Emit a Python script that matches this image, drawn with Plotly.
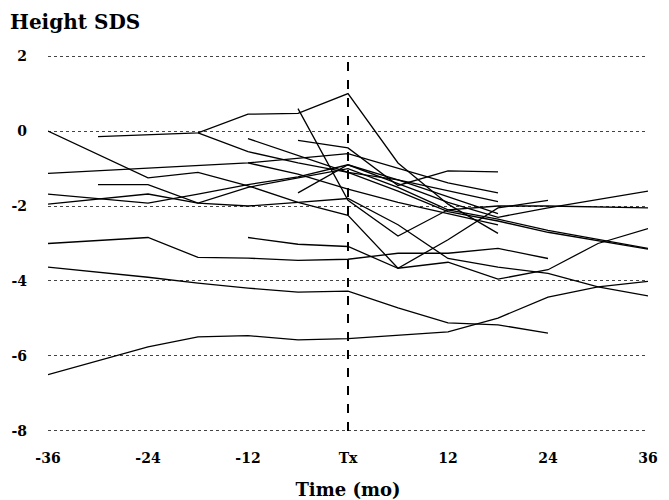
import plotly.graph_objects as go

# X tick labels
x_ticks = [-36, -24, -12, 0, 12, 24, 36]
x_labels = ["-36", "-24", "-12", "Tx", "12", "24", "36"]
y_ticks = [2, 0, -2, -4, -6, -8]
y_labels = ["2", "0", "-2", "-4", "-6", "-8"]

# Individual patient height SDS series (months relative to treatment, SDS)
t_top = [-30, -18, -12, -6, 0, 6, 12, 18]
v_top = [-0.15, -0.05, 0.45, 0.47, 1.0, -0.85, -1.95, -2.73]

t_zero = [-36, -24, -18, -12, -6, 0, 6, 12, 18, 24, 30, 36]
v_zero = [0.0, -1.25, -1.1, -1.46, -1.9, -2.25, -3.66, -3.5, -3.95, -3.7, -3.0, -2.6]

t_s = [-6, 0, 6, 12, 18, 24, 36]
v_s = [0.6, -1.85, -2.8, -2.1, -2.0, -2.0, -2.05]

t_d = [-12, -6, 0, 6, 12, 18, 24]
v_d = [-2.84, -3.02, -3.08, -3.66, -2.9, -2.05, -1.85]

t_c = [-36, -24, -18, -12, -6, 0, 6, 12, 18, 24]
v_c = [-3.0, -2.84, -3.37, -3.39, -3.45, -3.42, -3.26, -3.26, -3.13, -3.4]

t_b = [-36, -24, -18, -12, -6, 0, 6, 12, 18, 24]
v_b = [-3.63, -3.9, -4.06, -4.19, -4.3, -4.27, -4.72, -5.12, -5.17, -5.39]

t_a = [-36, -24, -18, -12, -6, 0, 12, 18, 24, 30, 36]
v_a = [-6.5, -5.76, -5.49, -5.46, -5.57, -5.54, -5.36, -4.99, -4.43, -4.16, -4.01]

t_3 = [-36, -24, -18, -12, 0, 6, 12, 18]
v_3 = [-1.13, -1.0, -0.93, -0.85, -0.6, -1.0, -1.38, -1.65]

t_4 = [-36, -24, -18, -12, -6, 0, 6, 12, 18, 24, 36]
v_4 = [-1.68, -1.92, -1.68, -1.43, -1.22, -0.9, -1.4, -1.9, -2.3, -2.05, -1.6]

t_5 = [-36, -24, -18, -12, -6, 0, 6, 12, 18, 24, 30, 36]
v_5 = [-1.95, -1.68, -1.92, -2.0, -1.9, -1.8, -2.5, -3.4, -3.63, -3.8, -4.16, -4.4]

t_6 = [-30, -24, -18, -12, -6, 0, 6, 12, 18, 24, 36]
v_6 = [-1.43, -1.43, -1.92, -1.5, -1.25, -1.0, -1.5, -2.1, -2.35, -2.65, -3.13]

t_f = [-18, -12, -6, 0, 6, 12, 18]
v_f = [-0.05, -0.55, -0.85, -1.1, -1.3, -1.6, -1.88]

t_g = [-12, -6, 0, 6, 12, 18, 24, 36]
v_g = [-0.2, -0.65, -1.1, -1.6, -2.15, -2.4, -2.7, -3.15]

t_h = [-6, 0, 6, 12, 18]
v_h = [-0.25, -0.45, -1.45, -1.06, -1.09]

t_i = [-6, 0, 6, 12, 18]
v_i = [-1.65, -0.9, -1.3, -1.75, -2.2]

t_j = [-12, -6, 0, 6, 12, 18]
v_j = [-0.85, -1.15, -1.55, -1.9, -2.2, -2.5]

series = [
    (t_top, v_top), (t_zero, v_zero), (t_s, v_s), (t_d, v_d), (t_c, v_c),
    (t_b, v_b), (t_a, v_a), (t_3, v_3), (t_4, v_4), (t_5, v_5), (t_6, v_6),
    (t_f, v_f), (t_g, v_g), (t_h, v_h), (t_i, v_i), (t_j, v_j),
]

FONT = "DejaVu Serif"

fig = go.Figure()
for t, v in series:
    fig.add_trace(go.Scatter(x=t, y=v, mode="lines",
                             line=dict(color="#000000", width=1.3),
                             showlegend=False, hoverinfo="skip"))

fig.add_shape(type="line", xref="x", yref="y", x0=0, x1=0, y0=-8, y1=2,
              line=dict(color="#000000", width=2, dash="dash"))

fig.update_layout(
    width=669, height=500,
    margin=dict(l=48, r=21, t=55, b=68),
    paper_bgcolor="white", plot_bgcolor="white",
    font=dict(family=FONT, color="#000000"),
    xaxis=dict(range=[-36, 36], tickvals=x_ticks, ticktext=x_labels,
               showgrid=False, zeroline=False, showline=False, ticks="",
               automargin=False,
               tickfont=dict(family=FONT, size=14, weight="bold"),
               ticklabelstandoff=16,
               title=dict(text="<b>Time (mo)</b>", font=dict(family=FONT, size=18),
                          standoff=20)),
    yaxis=dict(range=[-8.03, 2.03], tickvals=y_ticks, ticktext=y_labels,
               showgrid=True, gridcolor="#444444", griddash="dot", gridwidth=1,
               zeroline=False, showline=False, ticks="", automargin=False,
               tickfont=dict(family=FONT, size=14, weight="bold"),
               ticklabelstandoff=20),
    annotations=[dict(text="<b>Height SDS</b>", xref="paper", yref="paper",
                      x=-0.066, y=1.0, yshift=33, xanchor="left", yanchor="middle",
                      showarrow=False,
                      font=dict(family=FONT, size=20))],
)

fig.write_html("out.html")
